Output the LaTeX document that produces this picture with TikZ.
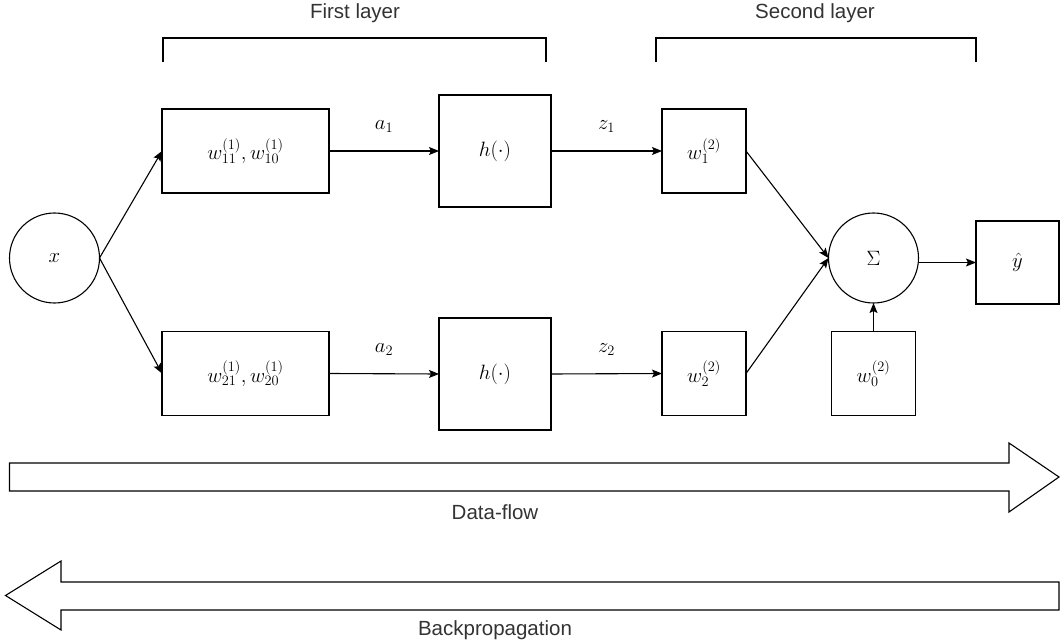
\documentclass[tikz,border=0pt]{standalone}
\usepackage{fontspec}
\newfontfamily\labelfont{Liberation Sans}
\usetikzlibrary{arrows.meta}
\definecolor{txtgray}{RGB}{51,51,51}
\begin{document}
\begin{tikzpicture}[x=1pt,y=-1pt,
  every node/.style={inner sep=0pt,outer sep=0pt},
  mathtext/.style={font=\fontsize{19.5}{23}\selectfont},
  caption/.style={font=\labelfont\fontsize{20.5}{24}\selectfont,text=txtgray},
  wbox/.style={draw,line width=1.1pt,minimum width=#1,mathtext},
  wbox/.default=84pt,
  roundnode/.style={draw,line width=1.1pt,circle,minimum size=90pt,mathtext},
  flow/.style={line width=1.1pt,-{Stealth[length=10pt,width=8pt,inset=2pt]}},
  bracketline/.style={line width=2pt},
  bigarrow/.style={draw,line width=1.1pt,fill=white,line join=miter}]
\useasboundingbox (0,0) rectangle (1060,644);

% input and first-layer units
\node[roundnode] (x) at (54.5,258) {$x$};
\node[wbox=167pt,minimum height=84pt] (w1a) at (245.5,151) {$w^{(1)}_{11}, w^{(1)}_{10}$};
\node[wbox=167pt,minimum height=84pt] (w2a) at (245.5,373.5) {$w^{(1)}_{21}, w^{(1)}_{20}$};
\node[wbox=112pt,minimum height=112pt] (h1) at (495,151) {$h(\cdot)$};
\node[wbox=112pt,minimum height=112pt] (h2) at (495,374) {$h(\cdot)$};

% second-layer units
\node[wbox,minimum height=84pt] (v1) at (704,151) {$w^{(2)}_{1}$};
\node[wbox,minimum height=84pt] (v2) at (704,373.5) {$w^{(2)}_{2}$};
\node[roundnode] (sum) at (873.5,258) {$\Sigma$};
\node[wbox,minimum height=84pt] (v0) at (873.5,373.5) {$w^{(2)}_{0}$};
\node[wbox=83pt,minimum height=83pt] (yhat) at (1017.5,262.5) {$\hat{y}$};

% connections
\draw[flow] (x.east) -- (w1a.west);
\draw[flow] (x.east) -- (w2a.west);
\draw[flow] (w1a.east) -- node[above=18pt,mathtext] (la1) {$a_1$} (h1.west);
\draw[flow] (w2a.east) -- node[above=18pt,mathtext] (la2) {$a_2$} (h2.west);
\draw[flow] (h1.east) -- node[above=18pt,mathtext] (lz1) {$z_1$} (v1.west);
\draw[flow] (h2.east) -- node[above=18pt,mathtext] (lz2) {$z_2$} (v2.west);
\draw[flow] (v1.east) -- (sum.west);
\draw[flow] (v2.east) -- (sum.west);
\draw[flow] (v0.north) -- (sum.south);
\coordinate (sumout) at (918.3,262.5);
\draw[flow] (sumout) -- (yhat.west);

% layer brackets
\draw[bracketline] (163,62) -- (163,38) -- (546,38) -- (546,62);
\node[caption] (first) at (355,13) {First layer};
\draw[bracketline] (656,62) -- (656,38) -- (976,38) -- (976,62);
\node[caption] (second) at (815,13) {Second layer};

% direction arrows
\draw[bigarrow] (9.5,463) -- (1009,463) -- (1009,443) -- (1059,477) -- (1009,512)
  -- (1009,491) -- (9.5,491) -- cycle;
\node[caption] (dataflow) at (495,512) {Data-flow};
\draw[bigarrow] (1059,582) -- (61,582) -- (61,561) -- (5.5,595.5) -- (61,630)
  -- (61,610) -- (1059,610) -- cycle;
\node[caption] (backprop) at (495,630) {Backpropagation};
\end{tikzpicture}
\end{document}
